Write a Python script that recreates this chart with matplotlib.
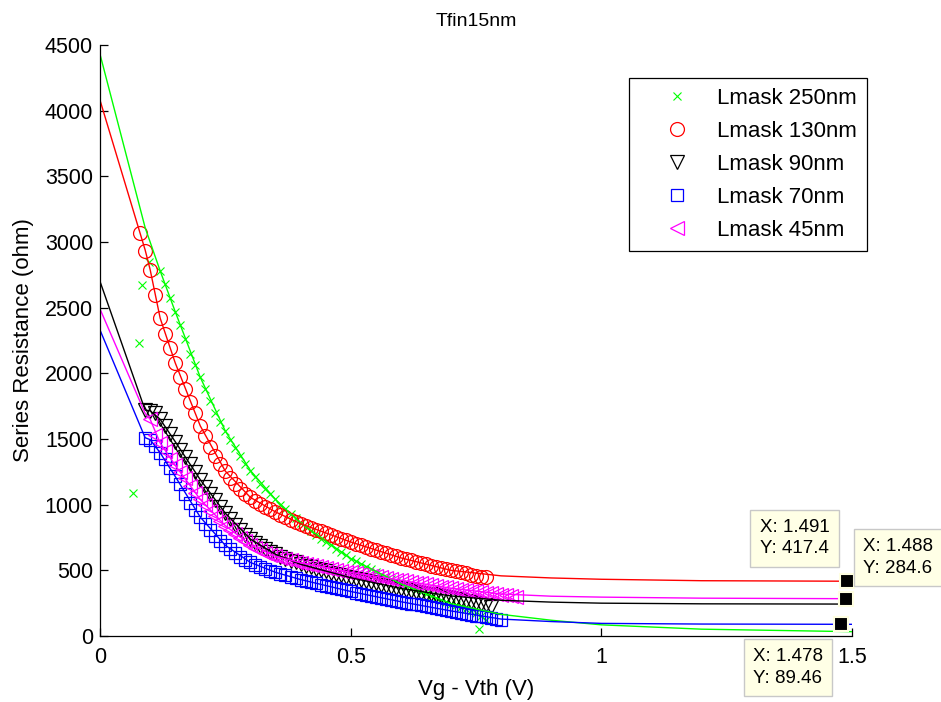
import matplotlib
matplotlib.use('Agg')
import matplotlib.pyplot as plt

plt.rcParams['font.family'] = ['Liberation Sans', 'DejaVu Sans']

# gate overdrive sweep shared by the measured series (V)
vg = [0.08, 0.09, 0.10, 0.11, 0.12, 0.13, 0.14, 0.15, 0.16, 0.17,
      0.18, 0.19, 0.20, 0.21, 0.22, 0.23, 0.24, 0.25, 0.26, 0.27,
      0.28, 0.29, 0.30, 0.31, 0.32, 0.33, 0.34, 0.35, 0.36, 0.37,
      0.38, 0.39, 0.40, 0.41, 0.42, 0.43, 0.44, 0.45, 0.46, 0.47,
      0.48, 0.49, 0.50, 0.51, 0.52, 0.53, 0.54, 0.55, 0.56, 0.57,
      0.58, 0.59, 0.60, 0.61, 0.62, 0.63, 0.64, 0.65, 0.66, 0.67,
      0.68, 0.69, 0.70, 0.71, 0.72, 0.73, 0.74, 0.75, 0.76, 0.77,
      0.78, 0.79, 0.80, 0.81, 0.82, 0.83]

# Lmask 250nm: a few noisy points at low overdrive, then vg 0.12..0.77
rs_250_early_x = [0.065, 0.077, 0.084, 0.098]
rs_250_early = [1090, 2230, 2670, 2850]
rs_250 = [2780, 2680, 2570, 2470, 2370, 2260, 2150, 2060, 1970, 1880,
          1790, 1700, 1630, 1560, 1490, 1430, 1370, 1310, 1260, 1210,
          1160, 1120, 1080, 1040, 1000, 965, 930, 895, 860, 830,
          800, 770, 740, 715, 690, 665, 640, 615, 590, 570,
          548, 527, 507, 487, 468, 450, 432, 414, 397, 380,
          364, 348, 332, 317, 302, 288, 274, 260, 247, 234,
          221, 205, 190, 175, 150, 120]
rs_250_late_x = [0.755]
rs_250_late = [55]

# Lmask 130nm: vg 0.08..0.77
rs_130 = [3070, 2930, 2790, 2600, 2420, 2300, 2190, 2080, 1970, 1880,
          1785, 1695, 1600, 1520, 1440, 1370, 1310, 1255, 1205, 1160,
          1120, 1085, 1055, 1030, 1005, 985, 965, 945, 925, 905,
          885, 870, 855, 840, 825, 810, 796, 782, 768, 755,
          742, 729, 716, 703, 690, 678, 666, 654, 642, 630,
          618, 606, 595, 585, 575, 565, 555, 545, 536, 527,
          518, 509, 500, 492, 484, 476, 468, 460, 453, 448]

# Lmask 90nm: vg 0.09..0.78
rs_90 = [1720, 1715, 1695, 1650, 1600, 1540, 1480, 1420, 1365, 1310,
         1250, 1190, 1135, 1085, 1035, 985, 935, 888, 845, 805,
         770, 738, 708, 682, 660, 640, 622, 605, 589, 574,
         560, 546, 535, 524, 513, 502, 492, 482, 472, 462,
         453, 444, 435, 426, 417, 408, 400, 392, 384, 376,
         368, 360, 352, 344, 337, 330, 323, 316, 309, 302,
         295, 288, 281, 274, 267, 259, 251, 242, 233, 224]

# Lmask 70nm: vg 0.09..0.80
rs_70 = [1510, 1495, 1450, 1395, 1350, 1280, 1215, 1155, 1085, 1015,
         960, 905, 855, 805, 765, 725, 690, 660, 630, 600,
         580, 560, 540, 525, 510, 497, 485, 474, 462, 450,
         440, 430, 420, 410, 400, 391, 382, 373, 364, 355,
         347, 339, 331, 323, 315, 307, 299, 291, 283, 275,
         268, 261, 254, 247, 240, 233, 226, 219, 212, 205,
         198, 191, 184, 177, 170, 163, 156, 149, 142, 135,
         128, 120]

# Lmask 45nm: vg 0.10..0.83
rs_45 = [1650, 1530, 1470, 1410, 1350, 1300, 1250, 1200, 1145, 1090,
         1040, 995, 955, 915, 875, 840, 805, 775, 745, 720,
         695, 672, 652, 635, 620, 607, 596, 585, 575, 566,
         558, 550, 542, 535, 527, 520, 512, 505, 498, 491,
         485, 478, 472, 466, 460, 454, 448, 442, 436, 430,
         424, 418, 412, 406, 400, 394, 388, 382, 376, 370,
         364, 359, 354, 349, 344, 339, 334, 329, 324, 319,
         314, 309, 304, 300]

# fitted curves, evaluated out to 1.5 V
fit_x = [0, 0.09, 0.10, 0.12, 0.15, 0.20, 0.25, 0.30, 0.35, 0.40,
         0.50, 0.60, 0.70, 0.80, 0.90, 1.00, 1.20, 1.50]
fit_250 = [4430, 3110, 3000, 2780, 2470, 1970, 1560, 1260, 1040, 860,
           590, 397, 247, 165, 120, 85, 52, 33]
fit_130 = [4080, 2940, 2790, 2420, 2080, 1600, 1255, 1055, 945, 855,
           716, 595, 500, 458, 442, 432, 421, 417]
fit_90 = [2700, 1720, 1715, 1650, 1480, 1190, 935, 738, 622, 546,
          444, 362, 305, 272, 258, 250, 245, 243]
fit_70 = [2330, 1510, 1495, 1395, 1215, 905, 690, 560, 485, 430,
          339, 261, 191, 129, 110, 96, 91, 89]
fit_45 = [2490, 1695, 1650, 1470, 1300, 1040, 840, 695, 607, 558,
          485, 424, 364, 320, 303, 296, 288, 284]

# data cursors on the saturated tails
tip_x = [1.491, 1.488, 1.478]
tip_y = [417.4, 284.6, 89.46]
tip_offset = [(-53, 43), (52, 41), (-53, -43)]

labels = ['Lmask 250nm', 'Lmask 130nm', 'Lmask 90nm', 'Lmask 70nm', 'Lmask 45nm']
green = (0, 1, 0)
magenta = (1, 0, 1)

fig = plt.figure(figsize=(9.41, 7.02), dpi=100)
ax = fig.add_axes([100 / 941, 66 / 702, 752 / 941, 591 / 702])

x250 = rs_250_early_x + vg[4:70] + rs_250_late_x
y250 = rs_250_early + rs_250 + rs_250_late
ax.plot(x250, y250, 'x', color=green, ms=6, mew=0.8, ls='none', label=labels[0])
ax.plot(vg[0:70], rs_130, 'o', mfc='none', mec='red', ms=10, mew=0.9,
        ls='none', label=labels[1])
ax.plot(vg[1:71], rs_90, 'v', mfc='none', mec='black', ms=10, mew=0.9,
        ls='none', label=labels[2])
ax.plot(vg[1:73], rs_70, 's', mfc='none', mec='blue', ms=9, mew=0.9,
        ls='none', label=labels[3])
ax.plot(vg[2:76], rs_45, '<', mfc='none', mec=magenta, ms=10, mew=0.9,
        ls='none', label=labels[4])

for fy, c in [(fit_250, green), (fit_130, 'red'), (fit_90, 'black'),
              (fit_70, 'blue'), (fit_45, magenta)]:
    ax.plot(fit_x, fy, '-', color=c, lw=1.0)

ax.plot(tip_x, tip_y, 's', color='black', ms=10, mec='#FFFFE1', mew=1.5,
        zorder=6, clip_on=False)
for tx, ty, off in zip(tip_x, tip_y, tip_offset):
    ax.annotate('X: %g\nY: %g' % (tx, ty), xy=(tx, ty), xytext=off,
                textcoords='offset pixels', ha='center', va='center',
                fontsize=13.5, linespacing=1.35, zorder=7, annotation_clip=False,
                bbox=dict(boxstyle='square,pad=0.5', fc='#FFFFE6',
                          ec='#C8C8C8', lw=1))

ax.set_xlim(0, 1.5)
ax.set_ylim(0, 4500)
ax.set_xticks([0, 0.5, 1, 1.5])
ax.set_xticklabels(['0', '0.5', '1', '1.5'])
ax.set_yticks(range(0, 4501, 500))
ax.spines['top'].set_visible(False)
ax.spines['right'].set_visible(False)
for s in ['left', 'bottom']:
    ax.spines[s].set_linewidth(0.9)
ax.tick_params(direction='in', length=6, width=0.9, labelsize=15.5)
ax.tick_params(axis='y', pad=5)
ax.tick_params(axis='x', pad=8)

ax.set_title('Tfin15nm', fontsize=14, pad=14)
ax.set_xlabel('Vg - Vth (V)', fontsize=16, labelpad=8)
ax.set_ylabel('Series Resistance (ohm)', fontsize=16, labelpad=8)

leg = ax.legend(loc='upper right', bbox_to_anchor=(1.02, 0.944), fontsize=16,
                fancybox=False, edgecolor='black', framealpha=1,
                borderpad=0.44, labelspacing=0.54, handlelength=3.4,
                handletextpad=0.12, borderaxespad=0)
leg.get_frame().set_linewidth(0.9)

fig.savefig('out.png', dpi=100)
